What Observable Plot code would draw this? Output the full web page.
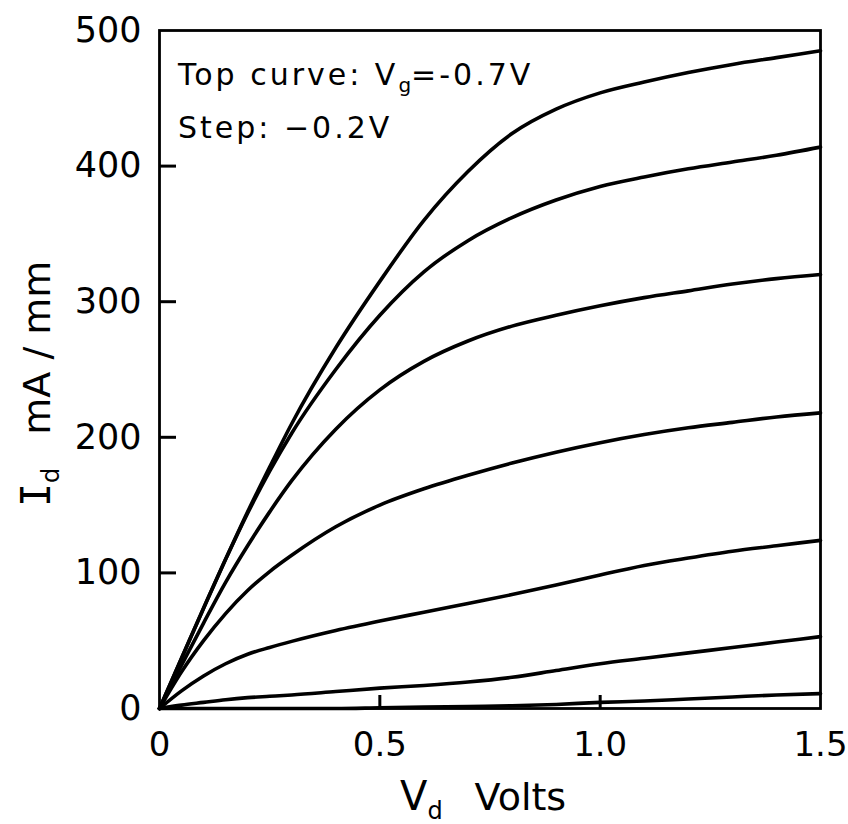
<!DOCTYPE html>
<html><head><meta charset="utf-8">
<script src="https://cdn.jsdelivr.net/npm/d3@7"></script>
<script src="https://cdn.jsdelivr.net/npm/@observablehq/plot@0.6"></script>
<style>body{margin:0;background:#fff}</style>
</head><body><div id="chart"></div>
<script>
// Drain voltage grid (V)
const vd = [0, 0.05, 0.1, 0.15, 0.2, 0.25, 0.3, 0.4, 0.5, 0.6, 0.7, 0.8, 0.9, 1.0, 1.1, 1.2, 1.3, 1.4, 1.5];
// Gate voltages (top curve -0.7 V, step -0.2 V)
const vgLevels = [-0.7, -0.9, -1.1, -1.3, -1.5, -1.7, -1.9];
// Drain current, mA/mm, one array per gate voltage
const idVgm07 = [0, 37, 74, 110, 145, 178, 210, 266, 315, 360, 396, 424, 442, 454, 462, 469, 475, 480, 485];
const idVgm09 = [0, 37, 74, 110, 144, 175, 203, 250, 290, 322, 345, 362, 375, 385, 392, 398, 403, 408, 414];
const idVgm11 = [0, 32, 63, 93, 120, 145, 168, 206, 235, 256, 271, 282, 290, 297, 303, 308, 313, 317, 320];
const idVgm13 = [0, 27, 50, 70, 87, 101, 113, 134, 150, 162, 172, 181, 189, 196, 202, 207, 211, 215, 218];
const idVgm15 = [0, 13, 24, 33, 40, 45, 49.5, 57.5, 64.5, 71, 77.5, 84, 91, 98.5, 105.5, 111, 116, 120, 124];
const idVgm17 = [0, 2.5, 4.5, 6.5, 8, 9, 10, 12.5, 15, 17, 19.5, 23, 28, 33, 37, 41, 45, 49, 53];
const idVgm19 = [0, 0, 0, 0, 0, 0, 0, 0, 0.5, 1, 1.5, 2, 3, 4.5, 5.5, 7, 8.5, 10, 11];
// Axis ticks
const xTicks = [0, 0.5, 1.0, 1.5];
const yTicks = [0, 100, 200, 300, 400, 500];
const xTickMarks = [0.5, 1.0];
const yTickMarks = [100, 200, 300, 400];

const curves = [idVgm07, idVgm09, idVgm11, idVgm13, idVgm15, idVgm17, idVgm19];
const rows = curves.flatMap((vals, k) => vals.map((v, i) => ({vd: vd[i], id: v, vg: vgLevels[k]})));

const W = 848, H = 824, mL = 159, mR = 28, mT = 30, mB = 116;
const FONT = "DejaVu Sans";

const plot = Plot.plot({
  width: W, height: H,
  marginLeft: mL, marginRight: mR, marginTop: mT, marginBottom: mB,
  style: {fontFamily: FONT, color: "black"},
  x: {domain: [0, 1.5]},
  y: {domain: [0, 500]},
  marks: [
    // tick labels
    Plot.axisY(yTicks, {anchor: "left", tickSize: 0, tickPadding: 18, fontSize: 35, label: null}),
    Plot.axisX(xTicks, {anchor: "bottom", tickSize: 0, tickPadding: 23, fontSize: 34, label: null,
      tickFormat: d => d === 0 ? "0" : d.toFixed(1)}),
    Plot.line(rows, {x: "vd", y: "id", z: "vg", curve: "monotone-x", stroke: "black", strokeWidth: 3.6}),
    // inward tick marks
    Plot.tickY(yTickMarks, {y: d => d, insetRight: (W - mL - mR) - 17, strokeWidth: 3, stroke: "black"}),
    Plot.tickX(xTickMarks, {x: d => d, insetTop: (H - mT - mB) - 13, strokeWidth: 3, stroke: "black"}),
    Plot.frame({strokeWidth: 2.8, stroke: "black"})
  ]
});
document.getElementById("chart").appendChild(plot);

const svg = d3.select(plot);

// x-axis label: V_d  Volts
const xl = svg.append("text").attr("x", 400).attr("y", 810).attr("text-anchor", "start")
  .attr("font-family", FONT).attr("font-size", 40).attr("fill", "black");
xl.append("tspan").text("V");
xl.append("tspan").attr("font-size", 24).attr("dy", 9).text("d");
xl.append("tspan").attr("dy", -9).attr("dx", 32).attr("font-size", 38).text("Volts");

// y-axis label: I_d  mA / mm (rotated)
const yl = svg.append("text").attr("transform", "translate(50,507) rotate(-90)").attr("text-anchor", "start")
  .attr("font-family", FONT).attr("font-size", 38).attr("fill", "black");
yl.append("tspan").attr("font-family", "DejaVu Sans Mono").attr("font-size", 40).text("I");
yl.append("tspan").attr("font-size", 24).attr("dy", 9).text("d");
yl.append("tspan").attr("dy", -9).attr("dx", 33).text("mA / mm");

// annotation
const a1 = svg.append("text").attr("x", 178).attr("y", 85).attr("text-anchor", "start")
  .attr("font-family", FONT).attr("font-size", 30).attr("letter-spacing", 3).attr("fill", "black");
a1.append("tspan").text("Top curve: V");
a1.append("tspan").attr("font-size", 20).attr("dy", 7).attr("letter-spacing", 0).text("g");
a1.append("tspan").attr("dy", -7).text("=-0.7V");
svg.append("text").attr("x", 178).attr("y", 138).attr("text-anchor", "start")
  .attr("font-family", FONT).attr("font-size", 30).attr("letter-spacing", 3).attr("fill", "black")
  .text("Step: \u22120.2V");
</script>
</body></html>
